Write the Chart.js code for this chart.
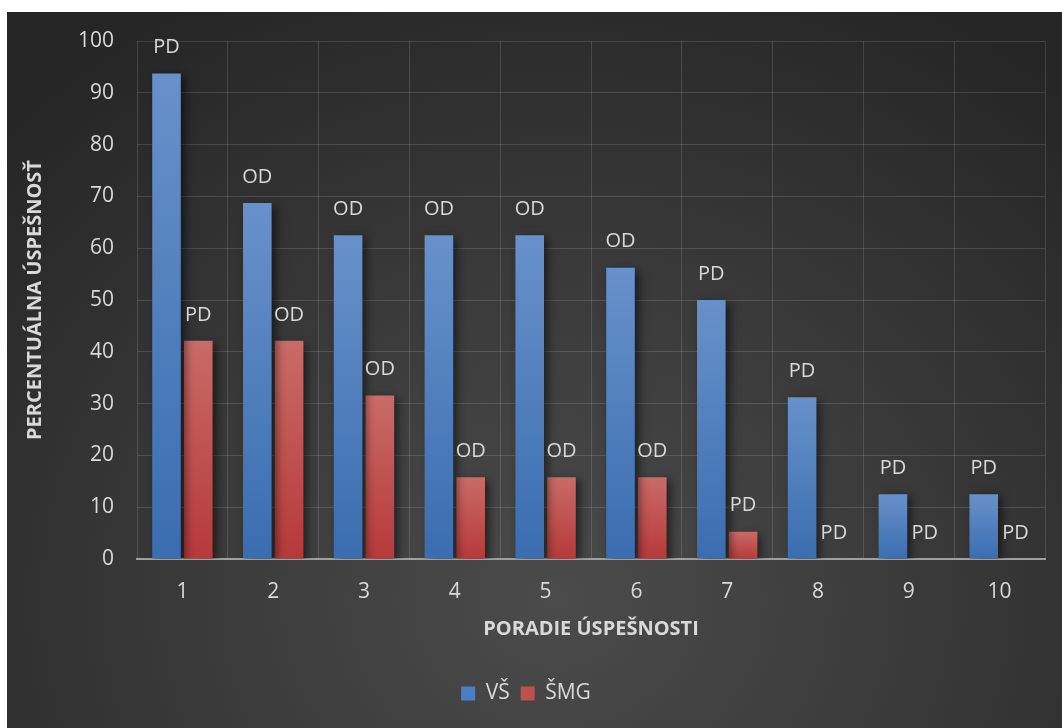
<!DOCTYPE html>
<html>
<head>
<meta charset="utf-8">
<script src="https://cdn.jsdelivr.net/npm/chart.js@4"></script>
<style>
    html, body { margin: 0; padding: 0; background: #ffffff; }
    #wrap {
        position: absolute;
        left: 7px;
        top: 12px;
        width: 1055px;
        height: 716px;
        background: radial-gradient(ellipse 72% 95% at 52% 82%, #4b4b4b 0%, #3d3d3d 40%, #262626 100%);
    }
</style>
</head>
<body>
<div id="wrap"><canvas id="chart"></canvas></div>
<script>
// ========================================
// DATA
// ========================================

const categories = ['1', '2', '3', '4', '5', '6', '7', '8', '9', '10'];
const vsValues = [93.75, 68.75, 62.5, 62.5, 62.5, 56.25, 50, 31.25, 12.5, 12.5];
const smgValues = [42.11, 42.11, 31.58, 15.79, 15.79, 15.79, 5.26, 0, 0, 0];
const vsLabels = ['PD', 'OD', 'OD', 'OD', 'OD', 'OD', 'PD', 'PD', 'PD', 'PD'];
const smgLabels = ['PD', 'OD', 'OD', 'OD', 'OD', 'OD', 'PD', 'PD', 'PD', 'PD'];
const yTicks = [0, 10, 20, 30, 40, 50, 60, 70, 80, 90, 100];

const TEXT = '#d9d9d9';
const FONT = "'Open Sans', sans-serif";

// per-bar vertical gradient
function barFill(top, bottom) {
    return (ctx) => {
        const chart = ctx.chart;
        if (!chart.chartArea || ctx.type !== 'data') return bottom;
        const y = chart.scales.y;
        const v = ctx.raw || 0;
        const y0 = y.getPixelForValue(v);
        const y1 = y.getPixelForValue(0);
        if (y1 - y0 < 1) return bottom;
        const g = chart.ctx.createLinearGradient(0, y0, 0, y1);
        g.addColorStop(0, top);
        g.addColorStop(1, bottom);
        return g;
    };
}

// shadow under bars + the PD / OD labels on top
const barExtras = {
    id: 'barExtras',
    beforeDatasetsDraw(chart) {
        const ctx = chart.ctx;
        ctx.save();
        ctx.shadowColor = 'rgba(0, 0, 0, 0.55)';
        ctx.shadowBlur = 9;
        ctx.shadowOffsetX = 4;
        ctx.shadowOffsetY = 3;
    },
    afterDatasetsDraw(chart) {
        const ctx = chart.ctx;
        ctx.restore();
        const texts = [vsLabels, smgLabels];
        ctx.save();
        ctx.font = '20px ' + FONT;
        ctx.fillStyle = TEXT;
        ctx.textAlign = 'center';
        ctx.textBaseline = 'middle';
        chart.data.datasets.forEach((ds, di) => {
            chart.getDatasetMeta(di).data.forEach((bar, i) => {
                ctx.fillText(texts[di][i], bar.x, bar.y - 26);
            });
        });
        ctx.restore();
    }
};

new Chart(document.getElementById('chart'), {
    type: 'bar',
    data: {
        labels: categories,
        datasets: [
            {
                label: 'VŠ',
                data: vsValues,
                backgroundColor: barFill('#6891ca', '#3a6db0'),
                categoryPercentage: 0.7,
                barPercentage: 0.9
            },
            {
                label: 'ŠMG',
                data: smgValues,
                backgroundColor: barFill('#c96b67', '#b6393a'),
                categoryPercentage: 0.7,
                barPercentage: 0.9
            }
        ]
    },
    options: {
        responsive: true,
        maintainAspectRatio: false,
        animation: false,
        layout: {
            padding: { top: 29, right: 17, left: 0, bottom: 14 }
        },
        plugins: {
            legend: {
                position: 'bottom',
                labels: {
                    color: TEXT,
                    boxWidth: 14,
                    boxHeight: 14,
                    padding: 11,
                    font: { family: FONT, size: 21 },
                    generateLabels(chart) {
                        return chart.data.datasets.map((ds, i) => ({
                            text: ds.label,
                            fillStyle: i === 0 ? '#4a7fc1' : '#c0504d',
                            strokeStyle: 'transparent',
                            lineWidth: 0,
                            fontColor: TEXT,
                            datasetIndex: i
                        }));
                    }
                }
            },
            tooltip: { enabled: false }
        },
        scales: {
            x: {
                grid: {
                    color: 'rgba(255, 255, 255, 0.13)',
                    drawTicks: false
                },
                border: { color: '#a0a0a0', width: 2 },
                ticks: {
                    color: TEXT,
                    padding: 20,
                    font: { family: FONT, size: 21 }
                },
                title: {
                    display: true,
                    text: 'PORADIE ÚSPEŠNOSTI',
                    color: TEXT,
                    padding: { top: 0, bottom: 31 },
                    font: { family: FONT, size: 20, weight: 'bold' }
                },
                afterFit(scale) {
                    scale.height = 113;
                    scale.paddingLeft = 0;
                    scale.paddingRight = 0;
                }
            },
            y: {
                min: 0,
                max: 100,
                afterBuildTicks(scale) {
                    scale.ticks = yTicks.map(v => ({ value: v }));
                },
                grid: {
                    color: 'rgba(255, 255, 255, 0.13)',
                    drawTicks: false
                },
                border: { display: false },
                ticks: {
                    color: TEXT,
                    padding: 23,
                    font: { family: FONT, size: 21 }
                },
                title: {
                    display: true,
                    text: 'PERCENTUÁLNA ÚSPEŠNOSŤ',
                    color: TEXT,
                    padding: { top: 16, bottom: 0 },
                    font: { family: FONT, size: 20, weight: 'bold' }
                },
                afterFit(scale) {
                    scale.width = 130;
                    scale.paddingTop = 0;
                    scale.paddingBottom = 0;
                }
            }
        }
    },
    plugins: [barExtras]
});
</script>
</body>
</html>
